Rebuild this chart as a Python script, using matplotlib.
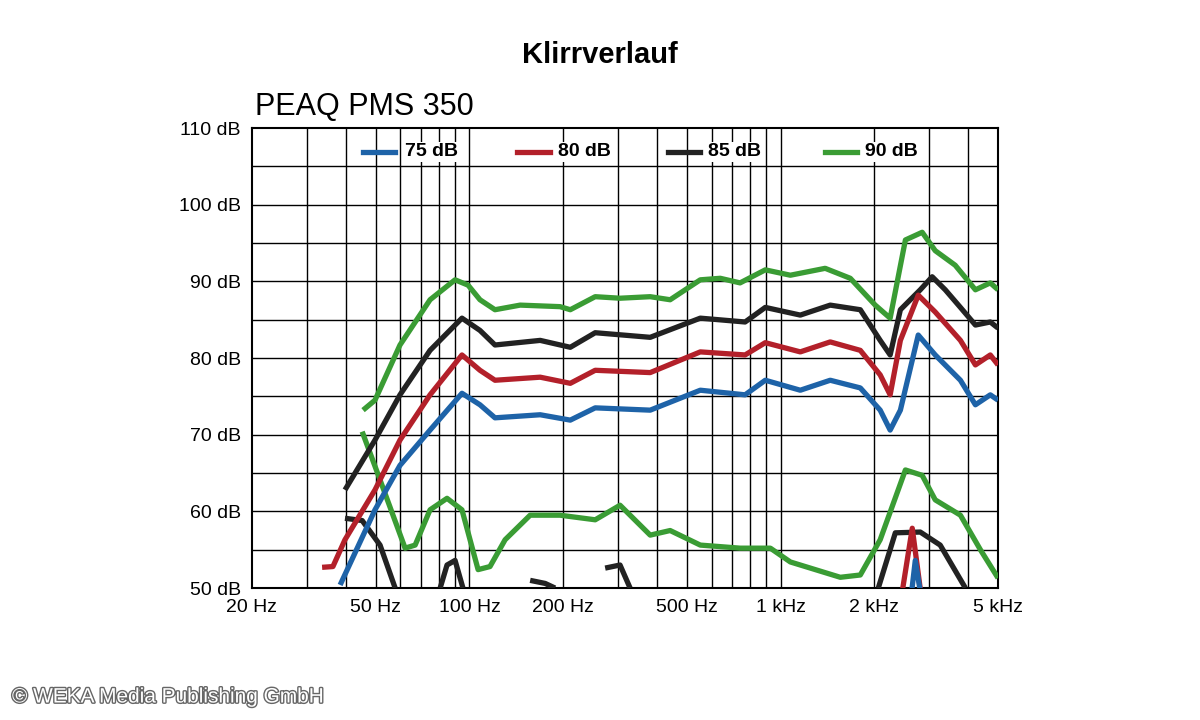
import numpy as np
import matplotlib
matplotlib.use("Agg")
import matplotlib.pyplot as plt
import matplotlib.patheffects as pe
plt.rcParams["font.family"] = "Liberation Sans"

nan = np.nan
g_f = [45.5,49.7,59.8,74.7,89.9,99,108.1,120.8,145.5,195.5,210.9,253.6,304.8,381,441.6,552,639.8,741,893,1075,1391,1675,2015,2250,2519,2852,3141,3642,4229,4722,5000]
g_v = [73.2,74.5,81.7,87.6,90.2,89.5,87.6,86.3,86.9,86.7,86.3,88,87.8,88,87.6,90.2,90.4,89.8,91.5,90.8,91.7,90.4,86.9,85.2,95.4,96.4,94,92.1,88.9,89.8,88.9]
k_f = [39.8,49.7,59.8,74.7,94.6,108.1,120.8,168.8,210.9,253.6,381,552,769,893,1157,1444,1804,2090,2250,2427,2812,3071,3383,3785,4229,4722,5000]
k_v = [62.8,69.3,75.2,81,85.2,83.6,81.7,82.3,81.4,83.3,82.7,85.2,84.7,86.6,85.6,86.9,86.3,82.3,80.4,86.3,88.9,90.6,88.9,86.6,84.3,84.7,83.9]
r_f = [33.6,36.4,39.8,49.7,59.8,74.7,94.6,108.1,120.8,168.8,210.9,253.6,381,552,769,893,1157,1444,1804,2090,2250,2427,2770,3141,3785,4229,4722,5000]
r_v = [52.7,52.8,56.3,62.8,69.3,75.2,80.4,78.4,77.1,77.5,76.7,78.4,78.1,80.8,80.4,82,80.8,82.1,81,77.8,75.2,82.3,88.2,86,82.3,79.1,80.4,79.1]
b_f = [38.4,49.7,59.8,74.7,94.6,108.1,120.8,168.8,210.9,253.6,381,552,769,893,1157,1444,1804,2090,2250,2427,2770,3141,3785,4229,4722,5000]
b_v = [50.4,60.2,66,70.6,75.4,73.9,72.2,72.6,71.9,73.5,73.2,75.8,75.2,77.1,75.8,77.1,76.1,73.2,70.6,73.2,83,80.4,77.1,73.9,75.2,74.5]
g2_f = [45.2,51.6,62.1,66.9,74.7,84.7,94.6,106.6,116.4,130.2,156.7,195.5,253.6,304.8,381,441.6,552,741,927,1075,1556,1804,2090,2519,2852,3141,3785,4387,5000]
g2_v = [70.4,64.1,55.2,55.6,60.2,61.7,60.2,52.4,52.8,56.3,59.5,59.5,58.9,60.8,56.9,57.5,55.6,55.2,55.2,53.4,51.4,51.7,56.3,65.4,64.7,61.5,59.5,55,51.3]
k2_f = [39.8,45.2,51.6,57.7,nan,80.5,84.7,89.9,95.3,nan,156.7,175.1,188.4,nan,273,304.8,328.3,nan,2061,2338,2812,3259,3927]
k2_v = [59.1,58.8,55.6,50,nan,50,53,53.6,50,nan,51,50.6,50,nan,52.6,53,50,nan,50,57.2,57.3,55.6,50]
r2_f = [2427,2650,2852]
r2_v = [48,57.8,48]
b2_f = [2612,2710,2852]
b2_v = [48,53.6,48]

xticks = [20,50,100,200,500,1000,2000,5000]
xlabels = ["20 Hz","50 Hz","100 Hz","200 Hz","500 Hz","1 kHz","2 kHz","5 kHz"]
yticks = [50,60,70,80,90,100,110]
legend_labels = ["75 dB","80 dB","85 dB","90 dB"]

BLUE, RED, BLACK, GREEN = "#1e63a8", "#b3202a", "#222222", "#3a9c34"

fig = plt.figure(figsize=(12,7.2), dpi=100)
ax = fig.add_axes([0.21,0.1833,0.6217,0.6389])
ax.set_xscale("log")
ax.set_xlim(20,5000); ax.set_ylim(50,110)
minor = [30,40,60,70,80,90,300,400,600,700,800,900,3000,4000]
for f in xticks[1:-1]+minor:
    ax.axvline(f,color="black",lw=1,zorder=1)
for y in range(55,110,5):
    ax.axhline(y,color="black",lw=1,zorder=1)
ax.set_xticks(xticks); ax.set_xticklabels(xlabels)
ax.set_xticks([],minor=True)
ax.set_yticks(yticks); ax.set_yticklabels([f"{v} dB" for v in yticks])
ax.tick_params(length=0,labelsize=14,pad=8)
for s in ax.spines.values(): s.set_linewidth(1.5)

lw=3.8
for f,v,c in [(g2_f,g2_v,GREEN),(k2_f,k2_v,BLACK),(r2_f,r2_v,RED),(b2_f,b2_v,BLUE),
              (g_f,g_v,GREEN),(k_f,k_v,BLACK),(r_f,r_v,RED),(b_f,b_v,BLUE)]:
    ax.plot(f,v,color=c,lw=lw,zorder=3,solid_joinstyle="round",solid_capstyle="butt")

lx = [(363,395,405),(517,550,558),(668,700,708),(825,857,865)]
for (x0,x1,xt),lab,c in zip(lx,legend_labels,[BLUE,RED,BLACK,GREEN]):
    y = 1-152/720
    fig.add_artist(plt.Line2D([x0/1200,x1/1200],[y,y],color=c,lw=lw,zorder=5))
    fig.text(xt/1200,y,lab,fontsize=14,fontweight="bold",va="center",ha="left",
             zorder=5,bbox=dict(facecolor="white",edgecolor="none",pad=1))

fig.text(0.5,1-55/720,"Klirrverlauf",ha="center",va="center",fontsize=21,fontweight="bold")
fig.text(255/1200,1-107/720,"PEAQ PMS 350",ha="left",va="center",fontsize=22)
fig.text(12/1200,1-697/720,"© WEKA Media Publishing GmbH",ha="left",va="center",fontsize=15,
         color="white",path_effects=[pe.withStroke(linewidth=2,foreground="#666666")])
fig.savefig("out.png",dpi=100)
